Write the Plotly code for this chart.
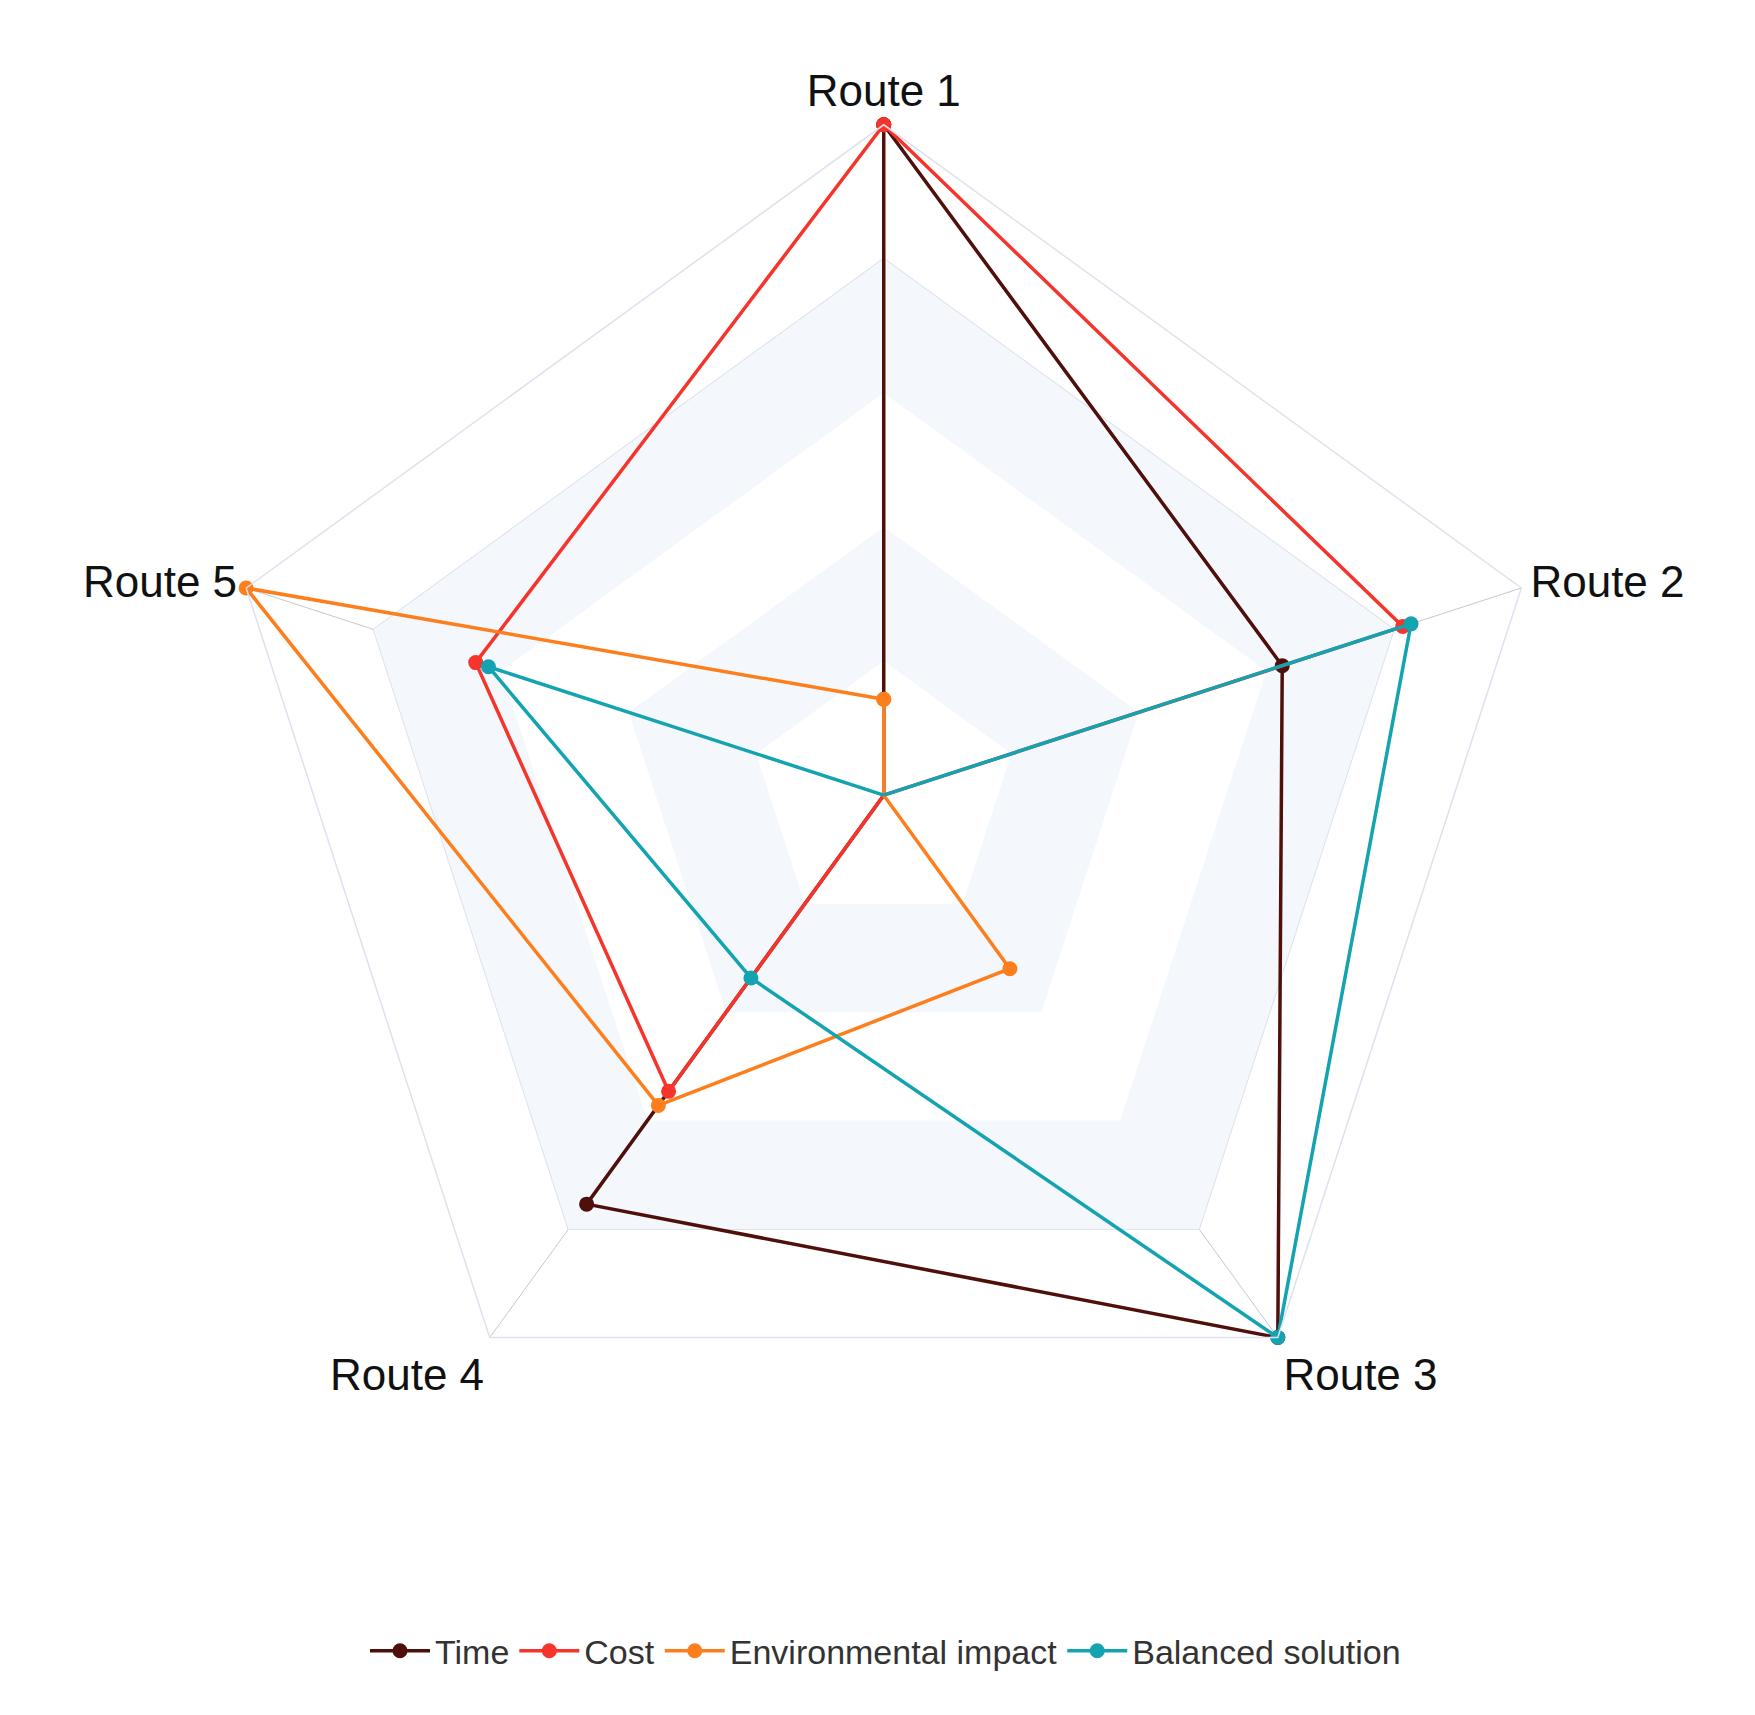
import plotly.graph_objects as go

routes = ["Route 1", "Route 2", "Route 3", "Route 4", "Route 5"]
time_vals = [100, 62.5, 100, 75.4, 0]
cost_vals = [100, 81.4, 0, 54.6, 64]
env_vals = [14.3, 0, 32, 57.2, 100]
bal_vals = [0, 82.7, 100, 33.7, 62]
series = [("Time", time_vals, "#4f0f0a"), ("Cost", cost_vals, "#f5352b"),
          ("Environmental impact", env_vals, "#fd7e1c"), ("Balanced solution", bal_vals, "#13a3b1")]
bands = [(80, "#f4f7fb"), (60, "#ffffff"), (40, "#f4f7fb"), (20, "#ffffff")]

fig = go.Figure()
for lvl, col in bands:
    fig.add_trace(go.Scatterpolar(r=[lvl]*6, theta=routes + routes[:1], mode="lines",
                                  fill="toself", fillcolor=col, line=dict(width=0),
                                  showlegend=False, hoverinfo="skip"))
for name, vals, col in series:
    fig.add_trace(go.Scatterpolar(r=vals + vals[:1], theta=routes + routes[:1], name=name,
                                  mode="lines+markers", line=dict(color=col, width=3.5),
                                  marker=dict(size=15, color=col)))
fig.update_layout(
    width=1755, height=1715, paper_bgcolor="white", margin=dict(l=0, r=0, t=0, b=0),
    font=dict(family="Liberation Sans, Arial", color="#111"),
    polar=dict(domain=dict(x=[0.117, 0.881], y=[0.150, 0.932]), gridshape="linear", bgcolor="white",
               radialaxis=dict(range=[0, 100], showticklabels=False, ticks="", tickvals=[20, 40, 60, 80, 100],
                               gridcolor="#dde2ee", gridwidth=1.5, showline=False),
               angularaxis=dict(rotation=90, direction="clockwise", gridcolor="#c8c8cc", linecolor="#dde2ee",
                                linewidth=1.5, tickfont=dict(size=44), ticks="")),
    legend=dict(orientation="h", x=0.5, xanchor="center", y=0.025, yanchor="bottom",
                font=dict(size=34, color="#333"), itemwidth=60),
)
fig.write_html("out.html")
